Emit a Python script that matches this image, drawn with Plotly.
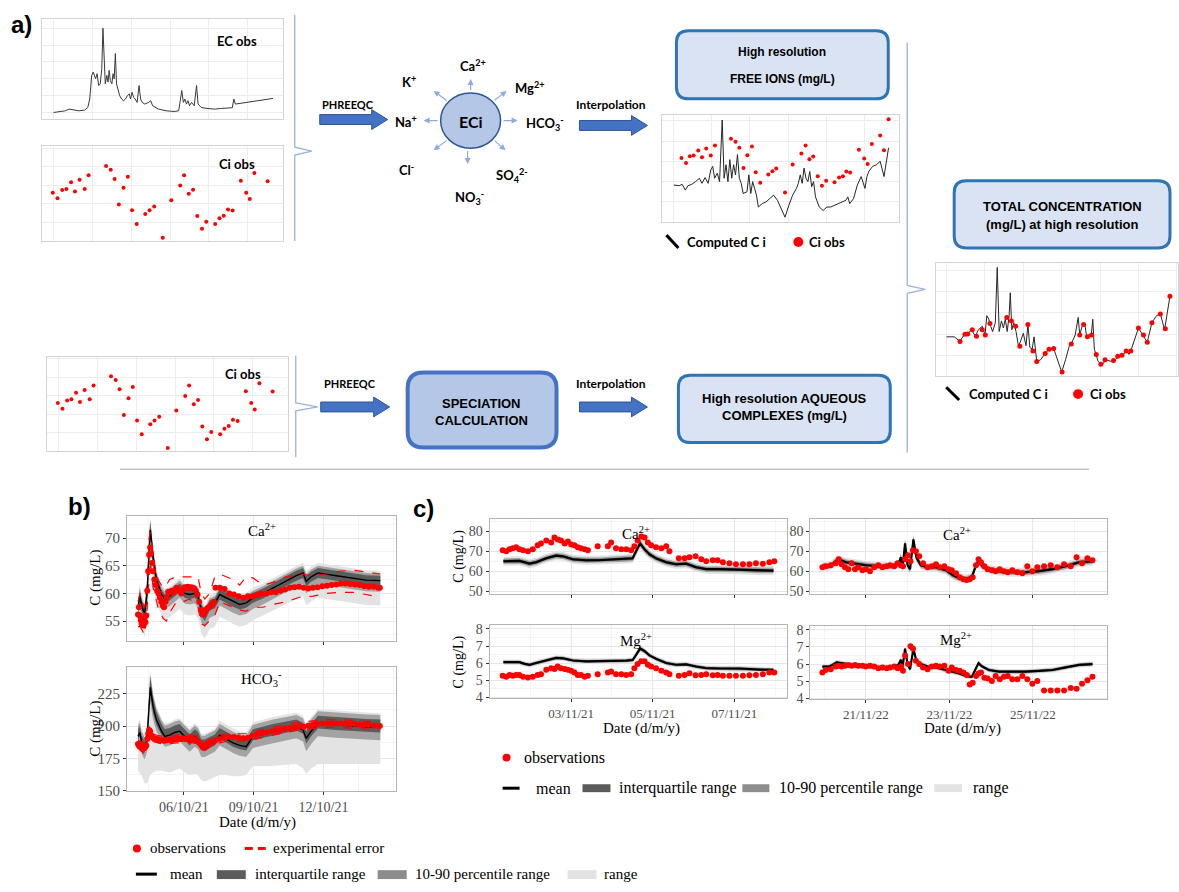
import numpy as np
import pandas as pd
import plotly.graph_objects as go

W, H = 1179, 892
SANS = "Lato, Liberation Sans, Arial, sans-serif"
ARIAL = "Liberation Sans, Arial, sans-serif"
SERIF = "Liberation Serif, Times New Roman, serif"

# ================= Panel a : schematic mini-charts (relative units) =================
ec_t = [0, 15, 30, 40, 50, 65, 80, 88, 93, 98, 102, 108, 112, 116, 120, 124, 127, 130, 133, 137,
        140, 143, 146, 150, 153, 156, 159, 162, 166, 170, 175, 180, 185, 190, 195, 198, 202, 206, 210, 215,
        220, 224, 228, 235, 245, 250, 255, 270, 290, 310, 322, 326, 330, 334, 338, 342, 346, 350, 355, 362,
        368, 372, 380, 395, 415, 430, 450, 460, 464, 468, 480, 500, 520, 540, 555, 565]
ec_v = [0, 2, 5, 10, 8, 5, 7, 15, 40, 110, 120, 100, 115, 80, 85, 130, 250, 130, 85, 110,
        90, 125, 95, 85, 115, 100, 175, 85, 65, 50, 40, 35, 40, 50, 55, 40, 60, 45, 40, 30,
        80, 40, 30, 25, 30, 35, 20, 10, 5, 3, 5, 30, 65, 30, 40, 25, 35, 20, 30, 20,
        80, 25, 15, 12, 10, 12, 12, 14, 40, 25, 27, 30, 34, 37, 40, 42]

ci_t = [-2, 10, 22, 33, 45, 55, 67, 80, 90, 135, 147, 157, 168, 180, 191, 202, 214, 236, 247, 259,
        281, 303, 326, 336, 348, 359, 370, 382, 393, 416, 427, 438, 449, 461, 482, 496, 505, 517, 551]
ci_v = [130, 115, 137, 140, 158, 133, 165, 140, 177, 202, 192, 167, 98, 143, 173, 83, 46, 73, 83, 93,
        9, 110, 149, 177, 127, 138, 67, 33, 52, 46, 61, 68, 85, 82, 162, 130, 113, 183, 161]

free_t = [0, 14, 22, 30, 37, 47, 57, 67, 74, 82, 90, 97, 102, 107, 114, 120, 127, 132, 137, 142,
          147, 152, 157, 162, 167, 172, 177, 182, 192, 197, 202, 207, 212, 217, 222, 232, 242, 252, 262, 272,
          282, 292, 302, 312, 322, 327, 332, 337, 342, 347, 352, 357, 362, 367, 372, 382, 392, 402, 412, 422,
          432, 442, 452, 457, 462, 472, 482, 492, 497, 502, 507, 512, 522, 532, 542, 552, 564]
free_v = [110, 108, 112, 95, 108, 112, 120, 130, 115, 132, 115, 155, 165, 130, 145, 120, 302, 130, 170, 120,
          185, 130, 170, 140, 200, 130, 115, 85, 90, 140, 85, 120, 100, 80, 45, 55, 60, 70, 80, 65,
          40, 15, 50, 80, 100, 115, 140, 115, 160, 130, 120, 150, 105, 120, 75, 45, 35, 45, 45, 50,
          55, 60, 65, 75, 55, 70, 110, 135, 115, 100, 135, 150, 165, 170, 180, 135, 220]
free_obs_t = [20, 32, 42, 52, 64, 74, 85, 97, 108, 150, 162, 172, 183, 193, 205, 215, 227, 248, 259, 269,
              292, 312, 335, 346, 356, 366, 378, 389, 400, 422, 434, 444, 453, 463, 486, 500, 509, 520, 542, 552, 564]
free_obs_v = [190, 175, 195, 197, 212, 192, 218, 197, 227, 247, 238, 220, 160, 198, 224, 148, 117, 141, 151, 159,
              88, 171, 203, 227, 186, 194, 136, 108, 123, 118, 132, 136, 150, 147, 214, 188, 172, 231, 256, 213, 304]

tot_t = [0, 20, 35, 45, 55, 65, 75, 83, 93, 100, 105, 110, 115, 120, 127, 132, 137, 143, 148, 153,
         158, 163, 166, 170, 175, 181, 187, 192, 200, 207, 212, 217, 223, 228, 235, 245, 255, 267, 279, 290,
         300, 310, 320, 327, 335, 343, 347, 353, 360, 365, 370, 377, 381, 385, 395, 405, 415, 430, 440, 450,
         460, 470, 475, 480, 490, 500, 510, 523, 535, 547, 557, 568, 582]
tot_v = [112, 112, 99, 117, 120, 132, 114, 132, 142, 117, 172, 162, 142, 127, 152, 309, 127, 157, 137, 162,
         127, 172, 237, 132, 152, 127, 87, 97, 122, 87, 147, 82, 77, 112, 42, 47, 62, 77, 79, 47,
         12, 47, 87, 97, 117, 167, 117, 142, 149, 112, 117, 117, 162, 77, 42, 32, 47, 42, 47, 59,
         62, 72, 62, 72, 107, 137, 119, 97, 152, 172, 177, 132, 227]
tot_obs_t = [35, 48, 55, 67, 78, 93, 101, 113, 157, 169, 180, 191, 212, 225, 235, 257, 267, 279, 301, 325,
             347, 357, 367, 378, 390, 402, 413, 435, 446, 457, 468, 480, 500, 513, 523, 535, 557, 570, 582]
tot_obs_v = [99, 119, 120, 132, 114, 132, 117, 150, 167, 157, 142, 85, 147, 72, 42, 65, 77, 79, 12, 92,
             117, 147, 112, 117, 62, 34, 47, 45, 57, 60, 72, 72, 137, 117, 97, 152, 177, 135, 227]

# ================= Panel b : October 2021 (day of month) =================
b_band_day = [4.03, 4.11, 4.18, 4.25, 4.32, 4.42, 4.51, 4.56, 4.68, 4.82,
              5.04, 5.18, 5.39, 5.61, 5.82, 6.04, 6.25, 6.47, 6.61, 6.75,
              6.90, 7.11, 7.33, 7.54, 7.83, 8.11, 8.40, 8.68, 8.97, 9.40,
              9.83, 10.40, 10.83, 11.12, 11.26, 11.47, 11.76, 12.55, 13.26, 13.83, 14.44]
b_ca_mean = [57.5, 59.5, 58.0, 57.0, 56.5, 60.0, 68.0, 71.5, 66.5, 62.5,
             59.8, 59.0, 59.5, 60.2, 61.0, 60.0, 59.8, 60.0, 59.5, 57.0,
             56.0, 57.8, 58.2, 59.8, 59.2, 58.5, 58.0, 58.3, 59.2, 60.0,
             61.0, 62.3, 63.2, 63.7, 62.2, 63.0, 63.7, 63.2, 62.8, 62.4, 62.3]
b_ca_iqr = [0.8, 1.0, 1.0, 1.0, 1.0, 1.5, 1.8, 1.5, 1.2, 1.0,
            0.8, 0.8, 0.8, 0.8, 0.8, 0.8, 0.8, 0.8, 0.9, 1.0,
            1.0, 0.9, 0.9, 0.9, 0.9, 0.9, 0.9, 0.9, 0.9, 0.9,
            0.9, 0.9, 0.9, 0.9, 0.9, 0.9, 0.9, 0.9, 0.9, 0.9, 0.9]
b_ca_p10 = [1.8, 2.0, 2.0, 2.0, 2.2, 3.0, 3.5, 3.0, 2.5, 2.0,
            1.8, 1.8, 1.8, 1.8, 1.8, 1.8, 1.8, 1.8, 2.0, 2.2,
            2.2, 2.2, 2.2, 2.0, 2.0, 2.0, 2.0, 2.0, 2.0, 2.0,
            2.0, 2.0, 2.0, 2.0, 2.2, 2.0, 2.0, 2.0, 2.0, 2.0, 2.0]
b_ca_p90 = [1.3, 1.5, 1.5, 1.3, 1.3, 2.0, 2.5, 1.8, 1.5, 1.3,
            1.3, 1.3, 1.3, 1.3, 1.3, 1.3, 1.3, 1.3, 1.3, 1.3,
            1.3, 1.3, 1.3, 1.3, 1.3, 1.3, 1.3, 1.3, 1.3, 1.3,
            1.3, 1.3, 1.3, 1.3, 1.3, 1.3, 1.3, 1.3, 1.3, 1.3, 1.3]
b_ca_min = [3.5, 4.0, 4.0, 4.0, 4.5, 5.0, 5.5, 5.0, 4.5, 4.0,
            3.8, 3.8, 3.8, 3.8, 3.8, 3.8, 3.8, 3.8, 4.0, 4.2,
            4.2, 4.2, 4.2, 4.0, 4.0, 4.0, 4.0, 4.0, 4.0, 4.0,
            4.2, 4.2, 4.2, 4.2, 4.4, 4.4, 4.5, 4.5, 4.5, 4.5, 4.5]
b_ca_max = [2.0, 2.2, 2.0, 2.0, 2.0, 2.5, 3.0, 2.0, 2.0, 1.8,
            1.8, 1.8, 1.8, 1.8, 1.8, 1.8, 1.8, 1.8, 1.8, 1.8,
            1.8, 1.8, 1.8, 1.8, 1.8, 1.8, 1.8, 1.8, 1.8, 1.8,
            1.8, 1.8, 1.8, 1.8, 1.8, 1.8, 1.8, 1.8, 1.8, 1.8, 1.8]

b_hco3_mean = [192, 195, 188, 185, 183, 190, 222, 230, 215, 205,
               196, 192, 193, 195, 196, 192, 188, 192, 190, 184,
               184, 186, 188, 193, 190, 187, 185, 184, 192, 194,
               196, 198, 199.5, 197, 190.5, 196, 202, 201, 200, 199.5, 199]
b_hco3_iqr_lo = [3, 3, 3, 3, 3, 4, 6, 6, 5, 4,
                 3, 3, 3, 3, 3, 3, 3, 3, 3, 3,
                 3, 3, 3, 3, 3, 3, 3, 3, 3, 3,
                 3, 3, 3, 3, 4, 4, 4, 4, 4, 4, 4]
b_hco3_iqr_hi = [5, 5, 5, 5, 5, 6, 8, 8, 7, 6,
                 5.5, 5.5, 5.5, 5.5, 5.5, 5.5, 5.5, 5.5, 5.5, 5.5,
                 5.5, 5.5, 5.5, 5.5, 5.5, 5.5, 5.5, 5.5, 5.5, 5.5,
                 5.5, 5.5, 5.5, 5.5, 5.5, 5.5, 6, 6, 6, 6, 6]
b_hco3_p10 = [8, 9, 9, 9, 9, 10, 12, 12, 10, 9,
              8, 8, 8, 8, 8, 8, 8, 8, 8, 8,
              8, 8, 8, 8, 8, 8, 8, 8, 9, 9,
              9, 9, 9, 9, 10, 10, 10, 10, 10, 10, 10]
b_hco3_p90 = [8, 8, 8, 8, 8, 9, 10, 10, 9, 8.5,
              8.5, 8.5, 8.5, 8.5, 8.5, 8.5, 8.5, 8.5, 8.5, 8.5,
              8.5, 8.5, 8.5, 8.5, 8.5, 8.5, 8.5, 8.5, 9, 9,
              9, 9, 9, 9, 9, 9, 9.5, 9.5, 9.5, 9.5, 9.5]
b_hco3_min = [26.5, 32, 26, 26, 27.5, 34.5, 63, 68, 51, 39.5,
              30.5, 27.3, 29, 29.5, 29, 28, 26, 29, 28, 26,
              27, 27, 27.5, 31, 28, 26, 24, 22, 23, 25,
              27, 28, 29, 30, 27.5, 29, 31.5, 30.5, 29.5, 29, 28.5]
b_hco3_max = [10, 10, 10, 10, 10, 12, 14, 12, 11, 10,
              10, 10, 10, 10, 10, 10, 10, 10, 10, 10,
              10, 10, 10, 11, 11, 11, 11, 11, 11, 11,
              11, 11, 11, 11, 11, 11, 11, 11, 11, 11, 11]

b_obs_day = [4.03, 4.07, 4.11, 4.15, 4.19, 4.23, 4.27, 4.31, 4.35, 4.39, 4.43, 4.47, 4.51, 4.55, 4.59, 4.63, 4.67,
             4.73, 4.79, 4.85, 4.91, 4.97, 5.03, 5.09, 5.15, 5.21, 5.27, 5.33,
             5.40, 5.47, 5.54, 5.61, 5.68, 5.75, 5.82, 5.89, 5.96, 6.03, 6.10, 6.17, 6.24, 6.31, 6.38,
             6.45, 6.52, 6.59, 6.66, 6.73, 6.80, 6.87, 6.94, 7.01, 7.08, 7.15, 7.22, 7.29, 7.36,
             7.55, 7.75, 7.95, 8.15, 8.35, 8.55, 8.75, 8.95, 9.15, 9.35, 9.55, 9.75, 9.95, 10.15,
             10.35, 10.55, 10.75, 10.95, 11.15, 11.35, 11.55, 11.75, 11.95, 12.15, 12.35, 12.55,
             12.75, 12.95, 13.15, 13.35, 13.55, 13.75, 13.95, 14.15, 14.35, 14.42]
b_ca_obs = [56.2, 57.5, 56.0, 55.2, 54.5, 55.0, 54.2, 55.5, 54.8, 56.0, 60.5, 64.0, 67.0, 68.3, 67.2, 65.5, 64.0,
            62.5, 61.5, 60.5, 60.0, 59.2, 58.5, 57.8, 57.5, 58.5, 59.3, 60.3,
            60.2, 60.5, 60.2, 60.6, 61.0, 60.8, 60.4, 60.0, 60.6, 61.1, 61.0, 61.2, 61.0, 61.1, 61.0,
            60.9, 60.5, 59.8, 58.5, 57.0, 56.2, 56.3, 57.0, 57.3, 57.5, 57.8, 58.0, 58.5, 61.0,
            61.0, 60.8, 60.0, 59.8, 59.5, 59.2, 59.5, 59.5, 59.7, 60.0, 60.0, 60.2, 60.2, 60.5,
            60.7, 61.0, 61.1, 61.2, 61.0, 60.9, 61.0, 61.1, 61.3, 61.4, 61.5, 61.6,
            61.8, 61.8, 61.7, 61.6, 61.5, 61.3, 61.2, 61.2, 61.0, 61.0]
b_hco3_obs = [186, 185, 184, 186, 183, 182, 184, 183, 184, 185, 190, 194, 197, 196, 193, 192, 191,
              190.5, 190, 190, 189, 189.5, 189, 189, 188.5, 189, 189, 189.5,
              189.5, 189, 189.5, 190, 190, 190.5, 190, 190, 190.5, 190, 190, 190.5, 190.5, 190, 190,
              189.5, 189, 188, 187, 185.5, 184, 183.5, 184.5, 186, 186.5, 187, 187.5, 188, 189,
              190, 191, 191.5, 191.5, 191, 190.5, 191, 192.5, 193.5, 194.5, 195, 196, 196.5, 197,
              198, 198.5, 199, 200, 199.5, 200.5, 201, 201.5, 202, 202, 202, 202,
              202, 202, 201.5, 201.5, 201, 201, 201, 200.5, 200, 200]

b_err_day = [4.03, 4.13, 4.25, 4.32, 4.42, 4.51, 4.56, 4.68, 4.89, 5.11,
             5.25, 5.39, 5.68, 5.97, 6.25, 6.61, 6.75, 6.90, 7.11, 7.33,
             7.54, 7.83, 8.11, 8.40, 8.68, 8.97, 9.40, 9.83, 10.40, 10.97,
             11.55, 12.12, 12.69, 13.26, 13.83, 14.44]
b_ca_err_hi = [58.5, 60.0, 58.0, 57.5, 62.5, 70.0, 71.0, 66.5, 62.5, 61.0,
               61.5, 62.5, 63.0, 63.0, 63.0, 63.0, 60.0, 59.0, 60.0, 63.0,
               63.5, 63.0, 62.5, 61.5, 63.0, 62.8, 61.5, 62.0, 63.0, 63.5,
               63.2, 63.5, 64.0, 64.2, 63.8, 63.5]
b_ca_err_lo = [54.0, 54.0, 53.0, 52.5, 57.0, 64.0, 66.0, 61.0, 57.5, 55.5,
               55.0, 56.5, 58.5, 58.5, 59.0, 57.5, 54.5, 54.2, 55.0, 56.0,
               58.5, 58.0, 57.5, 57.0, 56.8, 57.5, 57.5, 58.0, 58.5, 59.3,
               59.5, 60.0, 60.2, 60.2, 59.8, 59.3]
b_hco3_err_hi = [189, 188, 186, 186, 193, 200, 199, 194, 192.5, 192,
                 192, 192.5, 193, 193, 193.5, 192, 188, 187, 189.5, 191,
                 193, 194, 194.5, 194, 194, 195.5, 197.5, 199, 201, 203,
                 204, 205, 205, 204.5, 204, 203]
b_hco3_err_lo = [183, 182, 179, 180, 187, 194, 193, 188, 187, 186,
                 186, 186.5, 187, 187, 187.5, 186, 182, 181, 183.5, 185,
                 187, 188, 188.5, 188, 188, 189.5, 191.5, 193, 195, 197,
                 198, 199, 199, 198.5, 198, 197]

# ================= Panel c : November 2021 (left) and November 2022 (right) =================
cL_day = [1.34, 1.73, 1.86, 1.98, 2.14, 2.39, 2.63, 2.80, 3.04, 3.37,
          3.69, 4.02, 4.35, 4.51, 4.59, 4.69, 4.80, 4.92, 5.08, 5.33,
          5.57, 5.82, 6.06, 6.31, 6.64, 7.13, 7.62, 7.96]
cL_ca_mean = [65.0, 65.2, 64.5, 63.8, 64.5, 66.5, 67.8, 67.5, 66.0, 65.5,
              65.5, 66.0, 66.2, 66.5, 70.0, 74.0, 71.0, 68.5, 66.5, 64.5,
              63.5, 63.8, 62.0, 61.0, 61.0, 60.8, 60.3, 60.3]
cL_mg_mean = [6.05, 6.05, 5.95, 5.90, 6.00, 6.15, 6.30, 6.28, 6.15, 6.10,
              6.10, 6.12, 6.14, 6.18, 6.45, 6.85, 6.70, 6.45, 6.25, 6.00,
              5.90, 5.92, 5.80, 5.70, 5.68, 5.68, 5.62, 5.60]
cL_ca_iqr = [0.7, 0.7, 0.7, 0.7, 0.7, 0.7, 0.7, 0.7, 0.7, 0.7,
             0.7, 0.7, 0.7, 0.7, 0.8, 0.9, 0.8, 0.7, 0.7, 0.7,
             0.7, 0.7, 0.7, 0.7, 0.7, 0.7, 0.7, 0.7]
cL_ca_p = [1.4, 1.4, 1.4, 1.4, 1.4, 1.4, 1.4, 1.4, 1.4, 1.4,
           1.4, 1.4, 1.4, 1.5, 1.6, 1.8, 1.6, 1.5, 1.4, 1.4,
           1.4, 1.4, 1.4, 1.4, 1.4, 1.4, 1.4, 1.4]
cL_ca_rng = [2.3, 2.3, 2.3, 2.3, 2.3, 2.3, 2.3, 2.3, 2.3, 2.3,
             2.3, 2.3, 2.3, 2.4, 2.6, 2.9, 2.6, 2.4, 2.3, 2.3,
             2.3, 2.3, 2.3, 2.3, 2.3, 2.3, 2.3, 2.3]
cL_mg_iqr = [0.05, 0.05, 0.05, 0.05, 0.05, 0.05, 0.05, 0.05, 0.05, 0.05,
             0.05, 0.05, 0.05, 0.05, 0.06, 0.07, 0.06, 0.05, 0.05, 0.05,
             0.05, 0.05, 0.05, 0.05, 0.05, 0.05, 0.05, 0.05]
cL_mg_p = [0.10, 0.10, 0.10, 0.10, 0.10, 0.10, 0.10, 0.10, 0.10, 0.10,
           0.10, 0.10, 0.10, 0.11, 0.12, 0.13, 0.12, 0.11, 0.10, 0.10,
           0.10, 0.10, 0.10, 0.10, 0.10, 0.10, 0.10, 0.10]
cL_mg_rng = [0.16, 0.16, 0.16, 0.16, 0.16, 0.16, 0.16, 0.16, 0.16, 0.16,
             0.16, 0.16, 0.16, 0.17, 0.19, 0.21, 0.19, 0.17, 0.16, 0.16,
             0.16, 0.16, 0.16, 0.16, 0.16, 0.16, 0.16, 0.16]

cL_obs_day = [1.32, 1.41, 1.49, 1.57, 1.65, 1.73, 1.82, 1.94, 2.06, 2.18,
              2.26, 2.39, 2.51, 2.59, 2.67, 2.75, 2.84, 2.92, 3.00, 3.08,
              3.16, 3.24, 3.33, 3.41, 3.65, 3.90, 3.98, 4.10, 4.23, 4.35,
              4.47, 4.55, 4.63, 4.72, 4.80, 4.88, 4.96, 5.08, 5.21, 5.33,
              5.41, 5.64, 5.78, 5.90, 6.05, 6.19, 6.31, 6.47, 6.59, 6.72,
              6.88, 7.04, 7.21, 7.37, 7.53, 7.70, 7.86, 7.98]
cL_ca_obs = [70.5, 70.0, 71.0, 71.5, 72.0, 71.0, 70.5, 70.0, 71.0, 73.0,
             74.0, 75.5, 74.5, 77.0, 76.0, 75.5, 74.0, 75.0, 73.5, 73.0,
             72.0, 71.5, 71.0, 70.5, 72.5, 72.5, 74.5, 71.5, 71.0, 71.0,
             70.5, 72.5, 75.5, 77.5, 77.0, 74.5, 73.0, 72.0, 71.5, 72.5,
             70.0, 66.5, 66.5, 67.0, 67.5, 66.0, 65.0, 65.5, 65.5, 64.5,
             64.0, 63.5, 63.5, 63.5, 64.0, 63.8, 64.5, 65.0]
cL_mg_obs = [5.25, 5.20, 5.30, 5.25, 5.30, 5.30, 5.20, 5.15, 5.20, 5.30,
             5.35, 5.60, 5.70, 5.65, 5.80, 5.70, 5.65, 5.60, 5.55, 5.45,
             5.30, 5.30, 5.20, 5.25, 5.35, 5.45, 5.50, 5.35, 5.35, 5.30,
             5.35, 5.70, 5.95, 6.10, 6.10, 5.90, 5.80, 5.70, 5.55, 5.45,
             5.35, 5.25, 5.30, 5.40, 5.28, 5.30, 5.35, 5.28, 5.30, 5.25,
             5.25, 5.25, 5.25, 5.28, 5.30, 5.35, 5.45, 5.45]

cR_day = [19.96, 20.12, 20.20, 20.30, 20.40, 20.52, 20.68, 21.00, 21.32, 21.64,
          21.78, 21.84, 21.88, 21.94, 22.00, 22.06, 22.14, 22.21, 22.32, 22.48,
          22.68, 22.92, 23.08, 23.24, 23.40, 23.54, 23.64, 23.70, 23.79, 23.95,
          24.19, 24.51, 24.83, 25.15, 25.47, 25.79, 26.11, 26.43]
cR_ca_mean = [62.5, 62.5, 63.5, 65.5, 65.5, 64.5, 64.0, 63.0, 62.5, 62.5,
              63.5, 67.0, 61.5, 74.0, 63.0, 61.0, 76.0, 67.0, 63.0, 62.0,
              62.0, 60.5, 58.0, 56.5, 56.0, 57.0, 63.0, 65.0, 62.5, 61.0,
              60.0, 59.5, 59.5, 60.0, 61.0, 62.5, 64.5, 65.0]
cR_mg_mean = [5.85, 5.85, 5.95, 6.10, 6.05, 6.00, 5.95, 5.85, 5.80, 5.80,
              5.95, 6.25, 5.80, 6.90, 6.00, 5.70, 6.90, 6.20, 6.00, 5.85,
              5.80, 5.65, 5.55, 5.45, 5.30, 5.25, 5.75, 6.05, 5.85, 5.65,
              5.55, 5.55, 5.55, 5.60, 5.65, 5.80, 5.95, 6.00]
cR_ca_iqr = [0.7, 0.7, 0.7, 0.7, 0.7, 0.7, 0.7, 0.7, 0.7, 0.7,
             0.7, 0.9, 0.8, 1.0, 0.8, 0.8, 1.0, 0.9, 0.7, 0.7,
             0.7, 0.7, 0.7, 0.7, 0.7, 0.7, 0.8, 0.8, 0.7, 0.7,
             0.7, 0.7, 0.7, 0.7, 0.7, 0.7, 0.7, 0.7]
cR_ca_p = [1.4, 1.4, 1.4, 1.4, 1.4, 1.4, 1.4, 1.4, 1.4, 1.4,
           1.4, 1.7, 1.5, 1.9, 1.5, 1.5, 1.9, 1.7, 1.4, 1.4,
           1.4, 1.4, 1.4, 1.4, 1.4, 1.4, 1.5, 1.5, 1.4, 1.4,
           1.4, 1.4, 1.4, 1.4, 1.4, 1.4, 1.4, 1.4]
cR_ca_rng = [2.3, 2.3, 2.3, 2.3, 2.3, 2.3, 2.3, 2.3, 2.3, 2.3,
             2.3, 2.7, 2.5, 3.0, 2.5, 2.5, 3.0, 2.7, 2.3, 2.3,
             2.3, 2.3, 2.3, 2.3, 2.3, 2.3, 2.4, 2.4, 2.3, 2.3,
             2.3, 2.3, 2.3, 2.3, 2.3, 2.3, 2.3, 2.3]
cR_mg_iqr = [0.05, 0.05, 0.05, 0.05, 0.05, 0.05, 0.05, 0.05, 0.05, 0.05,
             0.05, 0.06, 0.06, 0.07, 0.06, 0.06, 0.07, 0.06, 0.05, 0.05,
             0.05, 0.05, 0.05, 0.05, 0.05, 0.05, 0.06, 0.06, 0.05, 0.05,
             0.05, 0.05, 0.05, 0.05, 0.05, 0.05, 0.05, 0.05]
cR_mg_p = [0.10, 0.10, 0.10, 0.10, 0.10, 0.10, 0.10, 0.10, 0.10, 0.10,
           0.10, 0.12, 0.11, 0.13, 0.11, 0.11, 0.13, 0.12, 0.10, 0.10,
           0.10, 0.10, 0.10, 0.10, 0.10, 0.10, 0.11, 0.11, 0.10, 0.10,
           0.10, 0.10, 0.10, 0.10, 0.10, 0.10, 0.10, 0.10]
cR_mg_rng = [0.16, 0.16, 0.16, 0.16, 0.16, 0.16, 0.16, 0.16, 0.16, 0.16,
             0.16, 0.19, 0.18, 0.21, 0.18, 0.18, 0.21, 0.19, 0.16, 0.16,
             0.16, 0.16, 0.16, 0.16, 0.16, 0.16, 0.17, 0.17, 0.16, 0.16,
             0.16, 0.16, 0.16, 0.16, 0.16, 0.16, 0.16, 0.16]

cR_obs_day = [19.96, 20.04, 20.16, 20.28, 20.35, 20.42, 20.50, 20.58, 20.66, 20.74,
              20.82, 20.92, 21.00, 21.10, 21.20, 21.30, 21.40, 21.50, 21.58, 21.68,
              21.76, 21.84, 21.89, 21.94, 22.01, 22.07, 22.13, 22.20, 22.28, 22.37,
              22.48, 22.58, 22.68, 22.77, 22.88, 22.98, 23.06, 23.16, 23.25, 23.34,
              23.42, 23.49, 23.56, 23.64, 23.70, 23.76, 23.84, 23.92, 24.02, 24.11,
              24.21, 24.31, 24.40, 24.51, 24.63, 24.75, 24.87, 24.99, 25.11, 25.27,
              25.43, 25.59, 25.75, 25.91, 26.05, 26.18, 26.31, 26.43]
cR_ca_obs = [62.0, 62.5, 63.0, 64.0, 66.0, 63.5, 62.0, 61.0, 64.0, 61.0,
             62.0, 60.5, 61.0, 60.0, 62.0, 63.0, 62.0, 62.5, 63.0, 62.5,
             64.0, 63.0, 62.5, 66.0, 68.0, 65.0, 70.5, 70.0, 67.5, 64.0,
             62.0, 62.5, 63.5, 62.0, 62.5, 61.0, 60.5, 59.0, 57.0, 56.0,
             55.5, 56.0, 57.0, 63.0, 66.0, 64.5, 62.5, 61.0, 60.5, 60.0,
             61.0, 60.0, 59.5, 60.5, 59.5, 59.0, 62.5, 60.0, 62.0, 62.5,
             63.0, 62.0, 63.5, 62.5, 67.0, 64.0, 66.5, 65.5]
cR_mg_obs = [5.50, 5.65, 5.70, 5.85, 5.90, 5.85, 5.90, 5.95, 5.90, 5.95,
             5.90, 5.90, 5.85, 5.90, 5.85, 5.75, 5.80, 5.75, 5.80, 5.85,
             5.75, 5.85, 5.60, 6.50, 6.00, 7.05, 6.90, 6.20, 6.00, 5.80,
             5.70, 5.85, 5.90, 5.85, 5.90, 5.60, 5.80, 5.65, 5.60, 5.50,
             5.35, 4.80, 4.90, 5.30, 5.45, 5.50, 5.20, 5.15, 5.00, 5.30,
             5.10, 5.25, 5.30, 5.10, 5.10, 5.30, 5.10, 4.85, 5.00, 4.45,
             4.45, 4.45, 4.45, 4.60, 4.55, 4.85, 5.05, 5.25]

# ---------------- sanity checks ----------------
assert len(ec_t) == len(ec_v) and len(ci_t) == len(ci_v)
assert len(free_t) == len(free_v) and len(free_obs_t) == len(free_obs_v)
assert len(tot_t) == len(tot_v) and len(tot_obs_t) == len(tot_obs_v)
for arr in [b_ca_mean, b_ca_iqr, b_ca_p10, b_ca_p90, b_ca_min, b_ca_max, b_hco3_mean, b_hco3_iqr_lo,
            b_hco3_iqr_hi, b_hco3_p10, b_hco3_p90, b_hco3_min, b_hco3_max]:
    assert len(arr) == len(b_band_day)
assert len(b_ca_obs) == len(b_obs_day) == len(b_hco3_obs)
for arr in [b_ca_err_hi, b_ca_err_lo, b_hco3_err_hi, b_hco3_err_lo]:
    assert len(arr) == len(b_err_day)
for arr in [cL_ca_mean, cL_mg_mean, cL_ca_iqr, cL_ca_p, cL_ca_rng, cL_mg_iqr, cL_mg_p, cL_mg_rng]:
    assert len(arr) == len(cL_day)
assert len(cL_ca_obs) == len(cL_obs_day) == len(cL_mg_obs)
for arr in [cR_ca_mean, cR_mg_mean, cR_ca_iqr, cR_ca_p, cR_ca_rng, cR_mg_iqr, cR_mg_p, cR_mg_rng]:
    assert len(arr) == len(cR_day)
assert len(cR_ca_obs) == len(cR_obs_day) == len(cR_mg_obs)

# ================= helpers =================
def to_dt(days, month_start):
    base = pd.Timestamp(month_start)
    return [base + pd.Timedelta(days=float(d) - 1.0) for d in days]


def dom(x0, x1, y0, y1):
    return [x0 / W, x1 / W], [1 - y1 / H, 1 - y0 / H]


def axkey(n):
    return ("xaxis" if n == 1 else f"xaxis{n}"), ("yaxis" if n == 1 else f"yaxis{n}")


def axid(n):
    return ("x" if n == 1 else f"x{n}"), ("y" if n == 1 else f"y{n}")


layout = dict(width=W, height=H, margin=dict(l=0, r=0, t=0, b=0),
              paper_bgcolor="white", plot_bgcolor="white", showlegend=False)
shapes = []
annotations = []
fig = go.Figure()


def mini_axes(n, box, xr, yr, xdt, ydt):
    xd, yd = dom(*box)
    xk, yk = axkey(n)
    xi, yi = axid(n)
    common = dict(showticklabels=False, ticks="", showgrid=True, gridcolor="#ececec", gridwidth=1,
                  zeroline=False, showline=True, mirror=True, linecolor="#d4d4d4", linewidth=1,
                  fixedrange=True, tick0=0)
    layout[xk] = dict(domain=xd, anchor=yi, range=xr, dtick=xdt, **common)
    layout[yk] = dict(domain=yd, anchor=xi, range=yr, dtick=ydt, **common)


def ts_axes(n, box, xr, yr, yticks, ymin_dt, xticks, xmin_dt, xmin_t0, show_xlab, tick_size=14, xtick_size=14):
    xd, yd = dom(*box)
    xk, yk = axkey(n)
    xi, yi = axid(n)
    common = dict(showline=True, mirror=True, linecolor="#b3b3b3", linewidth=1, zeroline=False,
                  ticks="outside", ticklen=3, tickcolor="#333333", tickwidth=1, fixedrange=True,
                  showgrid=True, gridcolor="#e6e6e6", gridwidth=1)
    layout[xk] = dict(domain=xd, anchor=yi, type="date", range=xr, tickmode="array", tickvals=xticks,
                      tickformat="%d/%m/%y", showticklabels=show_xlab,
                      tickfont=dict(family=SERIF, size=xtick_size, color="#4d4d4d"),
                      minor=dict(dtick=xmin_dt, tick0=xmin_t0, showgrid=True, gridcolor="#f3f3f3", ticks=""),
                      **common)
    layout[yk] = dict(domain=yd, anchor=xi, range=yr, tickmode="array", tickvals=yticks,
                      tickfont=dict(family=SERIF, size=tick_size, color="#4d4d4d"),
                      minor=dict(dtick=ymin_dt, tick0=0, showgrid=True, gridcolor="#f3f3f3", ticks=""),
                      **common)


def add_band(n, t, lo, hi, color):
    xi, yi = axid(n)
    t = list(t)
    fig.add_trace(go.Scatter(x=t + t[::-1], y=list(hi) + list(lo)[::-1], mode="lines", fill="toself",
                             fillcolor=color, line=dict(width=0, color=color), hoverinfo="skip",
                             showlegend=False, xaxis=xi, yaxis=yi))


def add_line(n, x, y, color, width, dash=None):
    xi, yi = axid(n)
    fig.add_trace(go.Scatter(x=list(x), y=list(y), mode="lines", line=dict(color=color, width=width, dash=dash),
                             showlegend=False, hoverinfo="skip", xaxis=xi, yaxis=yi))


def add_pts(n, x, y, color, size):
    xi, yi = axid(n)
    fig.add_trace(go.Scatter(x=list(x), y=list(y), mode="markers", marker=dict(color=color, size=size, line=dict(width=0)),
                             showlegend=False, hoverinfo="skip", xaxis=xi, yaxis=yi))


def txt(x, y, s, size=12, family=SANS, color="#000000", xanchor="center", yanchor="middle", angle=0):
    annotations.append(dict(x=x / W, y=1 - y / H, xref="paper", yref="paper", text=s, showarrow=False,
                            font=dict(size=size, family=family, color=color), xanchor=xanchor,
                            yanchor=yanchor, textangle=angle))


def P(x, y):
    return f"{x / W:.5f},{1 - y / H:.5f}"


def poly(pts, fill, line_color, lw=1, close=True):
    path = "M " + " L ".join(P(x, y) for x, y in pts) + (" Z" if close else "")
    shapes.append(dict(type="path", xref="paper", yref="paper", path=path,
                       fillcolor=fill if close else None, line=dict(color=line_color, width=lw)))


def rrect(x0, y0, x1, y1, r, fill, line_color, lw):
    path = (f"M {P(x0 + r, y0)} L {P(x1 - r, y0)} Q {P(x1, y0)} {P(x1, y0 + r)} "
            f"L {P(x1, y1 - r)} Q {P(x1, y1)} {P(x1 - r, y1)} L {P(x0 + r, y1)} "
            f"Q {P(x0, y1)} {P(x0, y1 - r)} L {P(x0, y0 + r)} Q {P(x0, y0)} {P(x0 + r, y0)} Z")
    shapes.append(dict(type="path", xref="paper", yref="paper", path=path, fillcolor=fill,
                       line=dict(color=line_color, width=lw)))


def seg(x0, y0, x1, y1, color, width, dash=None):
    shapes.append(dict(type="line", xref="paper", yref="paper", x0=x0 / W, y0=1 - y0 / H, x1=x1 / W,
                       y1=1 - y1 / H, line=dict(color=color, width=width, dash=dash)))


def rect(x0, y0, x1, y1, fill):
    shapes.append(dict(type="rect", xref="paper", yref="paper", x0=x0 / W, y0=1 - y1 / H, x1=x1 / W,
                       y1=1 - y0 / H, fillcolor=fill, line=dict(width=0)))


def dot(x, y, r, color):
    shapes.append(dict(type="circle", xref="paper", yref="paper", x0=(x - r) / W, x1=(x + r) / W,
                       y0=1 - (y + r) / H, y1=1 - (y - r) / H, fillcolor=color, line=dict(width=0)))


def ellipse(cx, cy, rx, ry, fill, line_color, lw):
    shapes.append(dict(type="circle", xref="paper", yref="paper", x0=(cx - rx) / W, x1=(cx + rx) / W,
                       y0=1 - (cy + ry) / H, y1=1 - (cy - ry) / H, fillcolor=fill,
                       line=dict(color=line_color, width=lw)))


def block_arrow(x0, x1, yc, bh=5, hh=10, hl=16):
    pts = [(x0, yc - bh), (x1 - hl, yc - bh), (x1 - hl, yc - hh), (x1, yc), (x1 - hl, yc + hh),
           (x1 - hl, yc + bh), (x0, yc + bh)]
    poly(pts, "#4472c4", "#2f5597", 1)


def thin_arrow(tail, tip):
    annotations.append(dict(x=tip[0] / W, y=1 - tip[1] / H, xref="paper", yref="paper",
                            ax=tail[0] - tip[0], ay=tail[1] - tip[1], axref="pixel", ayref="pixel",
                            showarrow=True, arrowhead=2, arrowsize=1, arrowwidth=1.2,
                            arrowcolor="#8faadc", text=" ", font=dict(size=2)))


def brace(x, y0, y1, ytip, xtip):
    pts = [(x, y0), (x, ytip - 4), (xtip, ytip), (x, ytip + 4), (x, y1)]
    poly(pts, None, "#9db3dc", 1.3, close=False)


# ================= Panel a =================
C_RED = "#ff0000"
mini_axes(1, (42, 283, 16, 117), [-30, 590], [-18, 278], 100, 50)
add_line(1, ec_t, ec_v, "#3a3a3a", 1)
mini_axes(2, (42, 283, 145, 241), [-30, 590], [0, 255], 100, 50)
add_pts(2, ci_t, ci_v, C_RED, 4)
mini_axes(3, (663, 900, 113, 222), [-30, 592], [0, 318], 100, 60)
add_line(3, free_t, free_v, "#262626", 1)
add_pts(3, free_obs_t, free_obs_v, C_RED, 4)
mini_axes(4, (937, 1179, 263, 378), [-27, 603], [0, 322], 100, 60)
add_line(4, tot_t, tot_v, "#262626", 1)
add_pts(4, tot_obs_t, tot_obs_v, C_RED, 5)
mini_axes(5, (47, 288, 358, 454), [-30, 590], [0, 255], 100, 50)
add_pts(5, ci_t, ci_v, C_RED, 4)

txt(22, 22, "<b>a)</b>", 24, ARIAL)
txt(237, 38, "<b>EC obs</b>", 13)
txt(237, 163, "<b>Ci obs</b>", 13)
txt(243, 376, "<b>Ci obs</b>", 13)

brace(295, 12, 241, 150, 312)
brace(296, 357, 460, 409, 318)
brace(908, 40, 455, 290, 926)

block_arrow(320, 388, 118)
block_arrow(580, 648, 124)
block_arrow(321, 390, 409)
block_arrow(580, 648, 409)
txt(348, 103, "<b>PHREEQC</b>", 11)
txt(350, 385, "<b>PHREEQC</b>", 11)
txt(612, 103, "<b>Interpolation</b>", 12)
txt(612, 385, "<b>Interpolation</b>", 12)

ellipse(471, 119, 30, 28, "#b4c7e7", "#2f5597", 1.5)
txt(471, 120, "<b>ECi</b>", 16)
for tail, tip in [((471, 91), (471, 77)), ((493, 100), (507, 89)), ((449, 100), (434, 89)),
                  ((440, 119), (424, 119)), ((502, 119), (518, 119)), ((449, 138), (434, 149)),
                  ((493, 138), (506, 149)), ((468, 147), (468, 163))]:
    thin_arrow(tail, tip)
txt(473, 63, "<b>Ca<sup>2+</sup></b>", 13)
txt(530, 86, "<b>Mg<sup>2+</sup></b>", 13)
txt(409, 79, "<b>K<sup>+</sup></b>", 13)
txt(406, 120, "<b>Na<sup>+</sup></b>", 13)
txt(545, 122, "<b>HCO<sub>3</sub><sup>-</sup></b>", 13)
txt(407, 169, "<b>Cl<sup>-</sup></b>", 13)
txt(512, 175, "<b>SO<sub>4</sub><sup>2-</sup></b>", 13)
txt(470, 197, "<b>NO<sub>3</sub><sup>-</sup></b>", 13)

rrect(677, 28, 889, 97, 12, "#dae3f3", "#2e75b6", 3)
txt(783, 50, "<b>High resolution</b>", 12, ARIAL)
txt(783, 77, "<b>FREE IONS (mg/L)</b>", 12, ARIAL)
rrect(955, 180, 1171, 248, 12, "#dae3f3", "#2e75b6", 3)
txt(1063, 206, "<b>TOTAL CONCENTRATION</b>", 13, ARIAL)
txt(1063, 224, "<b>(mg/L) at high resolution</b>", 13, ARIAL)
rrect(679, 377, 891, 445, 12, "#dae3f3", "#2e75b6", 3)
txt(785, 400, "<b>High resolution AQUEOUS</b>", 13, ARIAL)
txt(785, 418, "<b>COMPLEXES (mg/L)</b>", 13, ARIAL)
rrect(408, 374, 557, 450, 16, "#b4c7e7", "#4472c4", 4)
txt(482, 406, "<b>SPECIATION</b>", 13, ARIAL)
txt(482, 423, "<b>CALCULATION</b>", 13, ARIAL)

# mini legends
seg(667, 235, 679, 248, "#000000", 3)
txt(686, 242, "<b>Computed C i</b>", 13, xanchor="left")
dot(799, 242, 5, C_RED)
txt(808, 242, "<b>Ci obs</b>", 13, xanchor="left")
seg(947, 389, 960, 402, "#000000", 3)
txt(968, 396, "<b>Computed C i</b>", 13, xanchor="left")
dot(1079, 396, 5, C_RED)
txt(1089, 396, "<b>Ci obs</b>", 13, xanchor="left")

seg(120, 472, 1090, 472, "#a6a6a6", 1)

# ================= Panel b =================
C_RNG, C_P, C_IQR = "#e3e3e3", "#a3a3a3", "#5c5c5c"
oct_ = "2021-10-01"
b_t = to_dt(b_band_day, oct_)
b_to = to_dt(b_obs_day, oct_)
b_te = to_dt(b_err_day, oct_)
b_xr = to_dt([3.554, 15.10], oct_)
b_xticks = ["2021-10-06", "2021-10-09", "2021-10-12"]
ms_day = 86400000

ts_axes(6, (127, 396, 519, 646), b_xr, [51.4, 74.05], [55, 60, 65, 70], 2.5,
        b_xticks, 1.5 * ms_day, "2021-10-04 12:00", False, 15, 14)
ts_axes(7, (127, 396, 672, 798), b_xr, [149.5, 246], [150, 175, 200, 225], 12.5,
        b_xticks, 1.5 * ms_day, "2021-10-04 12:00", True, 15, 14)

m = np.array(b_ca_mean)
add_band(6, b_t, m - np.array(b_ca_min), m + np.array(b_ca_max), C_RNG)
add_band(6, b_t, m - np.array(b_ca_p10), m + np.array(b_ca_p90), C_P)
add_band(6, b_t, m - np.array(b_ca_iqr), m + np.array(b_ca_iqr), C_IQR)
add_line(6, b_t, m, "#000000", 1.4)
add_line(6, b_te, b_ca_err_hi, C_RED, 1.2, "dash")
add_line(6, b_te, b_ca_err_lo, C_RED, 1.2, "dash")
add_pts(6, b_to, b_ca_obs, C_RED, 6)

m = np.array(b_hco3_mean)
add_band(7, b_t, m - np.array(b_hco3_min), m + np.array(b_hco3_max), C_RNG)
add_band(7, b_t, m - np.array(b_hco3_p10), m + np.array(b_hco3_p90), C_P)
add_band(7, b_t, m - np.array(b_hco3_iqr_lo), m + np.array(b_hco3_iqr_hi), C_IQR)
add_line(7, b_t, m, "#000000", 1.4)
add_line(7, b_te, b_hco3_err_hi, C_RED, 1.2, "dash")
add_line(7, b_te, b_hco3_err_lo, C_RED, 1.2, "dash")
add_pts(7, b_to, b_hco3_obs, C_RED, 6)

txt(80, 510, "<b>b)</b>", 24, ARIAL)
txt(262, 534, "Ca<sup>2+</sup>", 15, SERIF)
txt(262, 684, "HCO<sub>3</sub><sup>-</sup>", 15, SERIF)
txt(96, 582, "C (mg/L)", 15, SERIF, angle=-90)
txt(96, 735, "C (mg/L)", 15, SERIF, angle=-90)
txt(258, 830, "Date (d/m/y)", 15, SERIF)

# legend b
dot(137, 856, 4, C_RED)
txt(148, 856, "observations", 15, SERIF, xanchor="left")
seg(245, 856, 253, 856, C_RED, 3)
seg(258, 856, 266, 856, C_RED, 3)
txt(271, 856, "experimental error", 15, SERIF, xanchor="left")
seg(136, 882, 157, 882, "#000000", 3)
txt(168, 882, "mean", 15, SERIF, xanchor="left")
rect(217, 878, 246, 887, C_IQR)
txt(253, 882, "interquartile range", 15, SERIF, xanchor="left")
rect(378, 878, 407, 887, "#8c8c8c")
txt(413, 882, "10-90 percentile range", 15, SERIF, xanchor="left")
rect(568, 878, 597, 887, C_RNG)
txt(603, 882, "range", 15, SERIF, xanchor="left")

# ================= Panel c =================
nov21, nov22 = "2021-11-01", "2022-11-01"
cL_t = to_dt(cL_day, nov21)
cL_to = to_dt(cL_obs_day, nov21)
cR_t = to_dt(cR_day, nov22)
cR_to = to_dt(cR_obs_day, nov22)
cL_xr = to_dt([1.0, 8.30], nov21)
cR_xr = to_dt([19.67, 26.78], nov22)
cL_ticks = ["2021-11-03", "2021-11-05", "2021-11-07"]
cR_ticks = ["2022-11-21", "2022-11-23", "2022-11-25"]

ts_axes(8, (490, 788, 522, 598), cL_xr, [48.7, 86.5], [50, 60, 70, 80], 5,
        cL_ticks, ms_day, "2021-11-02", False, 14, 13)
ts_axes(9, (490, 788, 630, 704), cL_xr, [3.93, 8.22], [4, 5, 6, 7, 8], 0.5,
        cL_ticks, ms_day, "2021-11-02", True, 14, 13)
ts_axes(10, (811, 1108, 522, 598), cR_xr, [48.7, 86.5], [50, 60, 70, 80], 5,
        cR_ticks, ms_day, "2022-11-20", False, 14, 13)
ts_axes(11, (811, 1108, 631, 705), cR_xr, [3.93, 8.22], [4, 5, 6, 7, 8], 0.5,
        cR_ticks, ms_day, "2022-11-20", True, 14, 13)


def c_panel(n, t, to, mean, iqr, p, rng, obs):
    mm = np.array(mean)
    add_band(n, t, mm - np.array(rng), mm + np.array(rng), C_RNG)
    add_band(n, t, mm - np.array(p), mm + np.array(p), C_P)
    add_band(n, t, mm - np.array(iqr), mm + np.array(iqr), C_IQR)
    add_line(n, t, mm, "#000000", 2.2)
    add_pts(n, to, obs, C_RED, 6)


c_panel(8, cL_t, cL_to, cL_ca_mean, cL_ca_iqr, cL_ca_p, cL_ca_rng, cL_ca_obs)
c_panel(9, cL_t, cL_to, cL_mg_mean, cL_mg_iqr, cL_mg_p, cL_mg_rng, cL_mg_obs)
c_panel(10, cR_t, cR_to, cR_ca_mean, cR_ca_iqr, cR_ca_p, cR_ca_rng, cR_ca_obs)
c_panel(11, cR_t, cR_to, cR_mg_mean, cR_mg_iqr, cR_mg_p, cR_mg_rng, cR_mg_obs)

txt(424, 512, "<b>c)</b>", 24, ARIAL)
txt(637, 537, "Ca<sup>2+</sup>", 15, SERIF)
txt(637, 645, "Mg<sup>2+</sup>", 15, SERIF)
txt(958, 538, "Ca<sup>2+</sup>", 15, SERIF)
txt(957, 644, "Mg<sup>2+</sup>", 15, SERIF)
txt(459, 560, "C (mg/L)", 14, SERIF, angle=-90)
txt(459, 667, "C (mg/L)", 14, SERIF, angle=-90)
txt(642, 735, "Date (d/m/y)", 15, SERIF)
txt(963, 735, "Date (d/m/y)", 15, SERIF)

# legend c
dot(507, 764, 4, C_RED)
txt(522, 764, "observations", 16, SERIF, xanchor="left")
seg(503, 795, 520, 795, "#000000", 3)
txt(534, 795, "mean", 16, SERIF, xanchor="left")
rect(583, 791, 611, 799, C_IQR)
txt(618, 795, "interquartile range", 16, SERIF, xanchor="left")
rect(743, 791, 770, 799, "#8c8c8c")
txt(778, 795, "10-90 percentile range", 16, SERIF, xanchor="left")
rect(935, 791, 963, 799, C_RNG)
txt(972, 795, "range", 16, SERIF, xanchor="left")

layout["shapes"] = shapes
layout["annotations"] = annotations
fig.update_layout(**layout)
fig.write_html("out.html", config={"displayModeBar": False})
